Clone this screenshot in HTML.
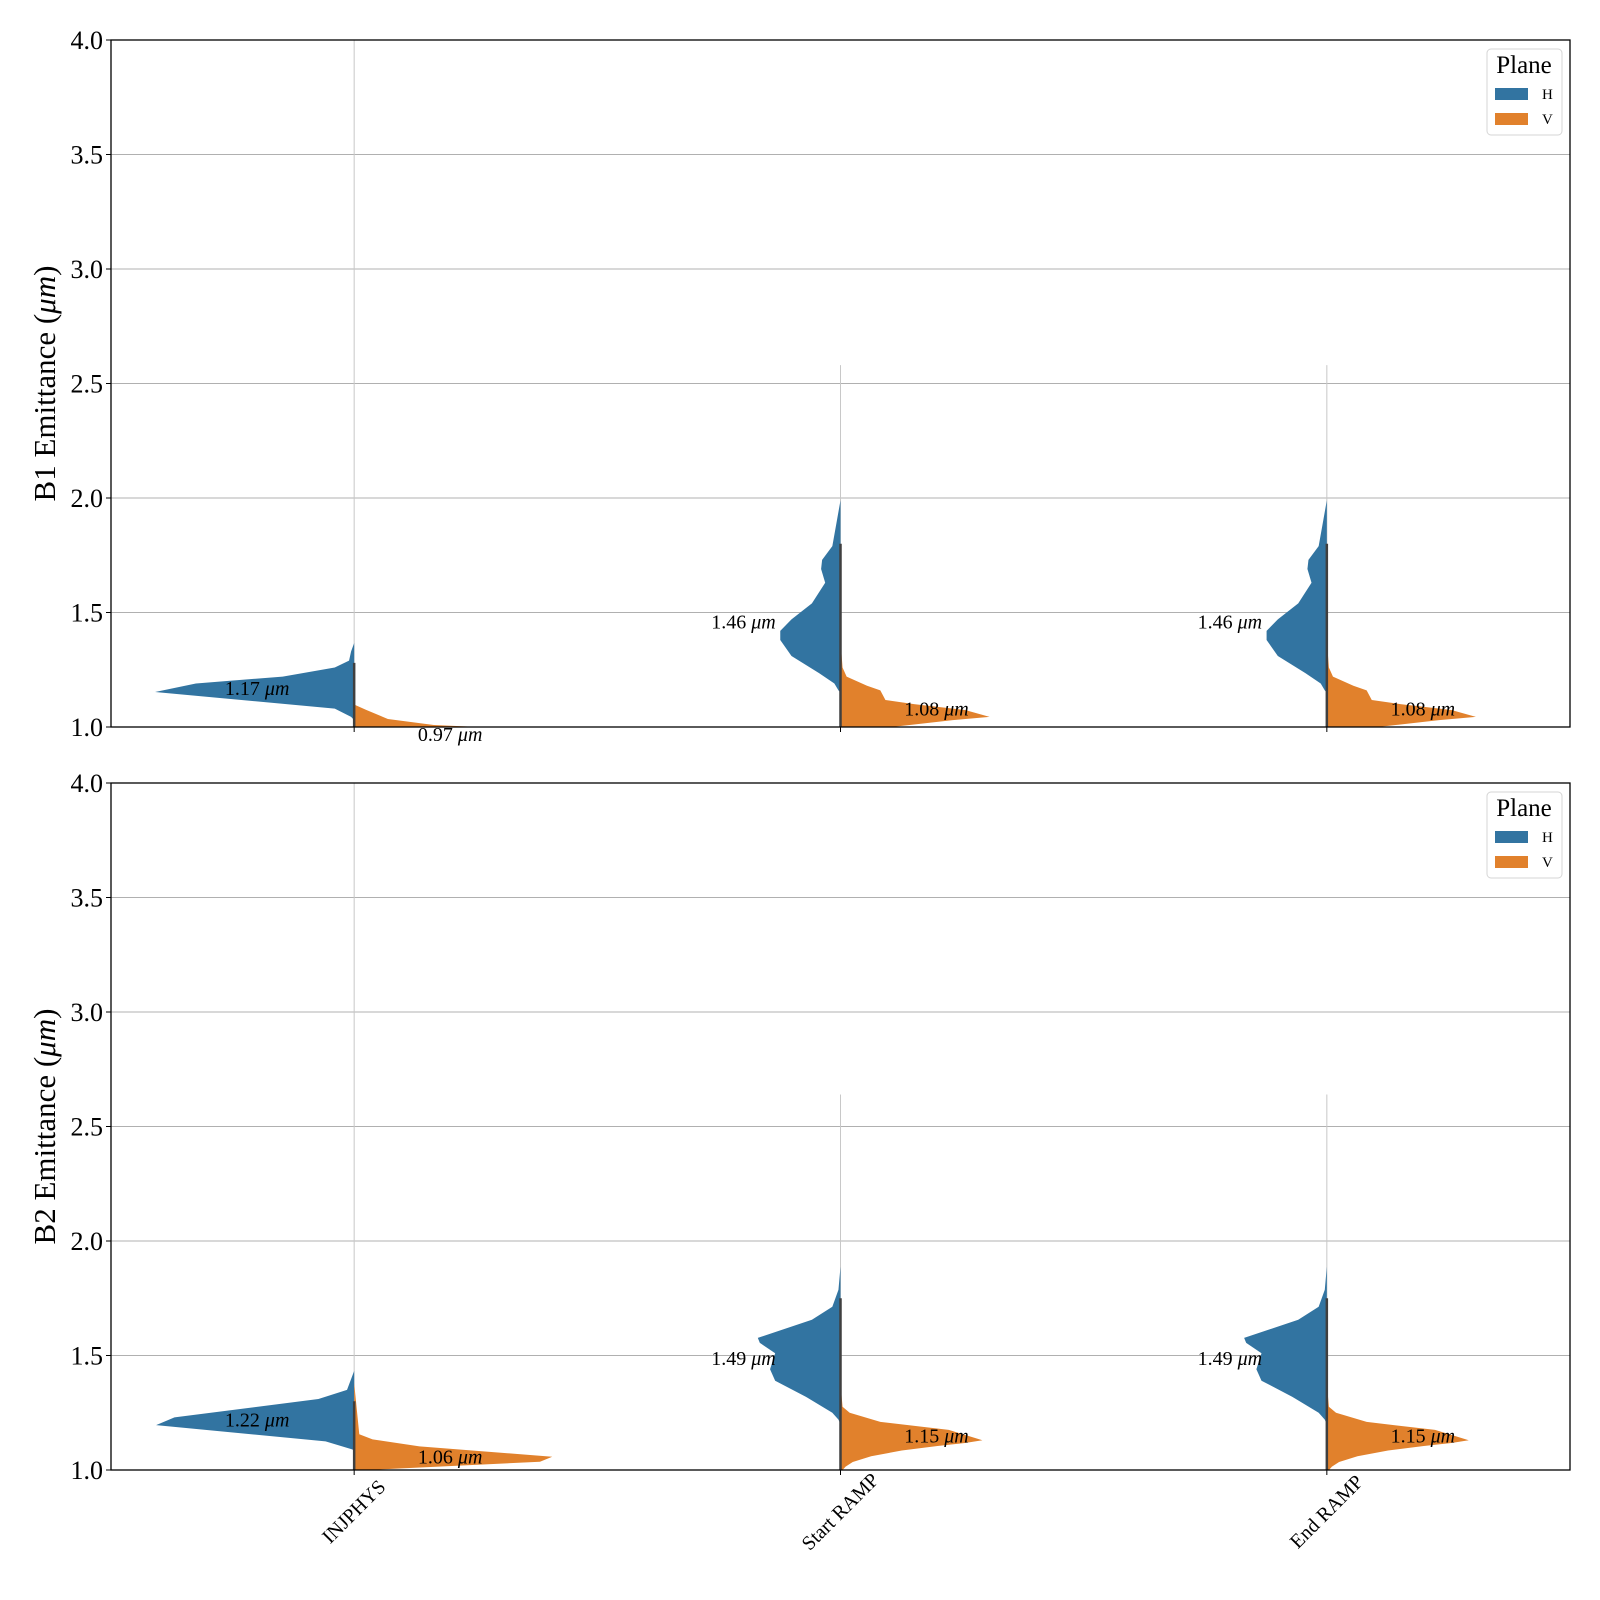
<!DOCTYPE html>
<html><head><meta charset="utf-8"><style>
html,body{margin:0;padding:0;background:#fff;}
svg{display:block;font-family:"Liberation Serif","DejaVu Serif",serif;}
</style></head><body>
<svg id="chart" width="1600" height="1600" viewBox="0 0 1600 1600" xmlns="http://www.w3.org/2000/svg"></svg>
<script>
const categories = ["INJPHYS", "Start RAMP", "End RAMP"];
const yTicks = [1.0, 1.5, 2.0, 2.5, 3.0, 3.5, 4.0];
const yTickLabels = ["1.0","1.5","2.0","2.5","3.0","3.5","4.0"];
const panelNames = ["B1", "B2"];
// density profiles: [value, half-width density]
const b1H_inj = [[1.367,0],[1.33,3],[1.29,5],[1.26,19],[1.22,70],[1.19,155],[1.153,195],[1.08,19],[1.044,3],[1.03,0]];
const b1V_inj = [[1.10,0],[1.096,1],[1.074,12],[1.035,33],[1.009,78],[1.0,122]];
const b1H_ramp = [[1.99,0],[1.89,4],[1.79,8],[1.73,18],[1.69,19],[1.63,15],[1.54,28],[1.47,48],[1.42,59],[1.38,59],[1.31,48],[1.235,21],[1.19,6],[1.16,2],[1.15,0]];
const b1V_ramp = [[1.38,0],[1.26,2],[1.22,6],[1.18,26],[1.16,39],[1.118,44],[1.10,72],[1.074,122],[1.044,146],[1.03,110],[1.01,70],[1.0,50]];
const b2H_inj = [[1.433,0],[1.35,7],[1.31,35],[1.23,176],[1.196,194],[1.125,28],[1.09,2],[1.085,0]];
const b2V_inj = [[1.38,0],[1.156,5],[1.134,18],[1.103,64],[1.058,194],[1.036,182],[1.013,75],[1.0,13]];
const b2H_ramp = [[1.888,0],[1.787,2],[1.713,8],[1.656,28],[1.577,81],[1.555,79],[1.51,64],[1.44,69],[1.39,64],[1.32,34],[1.25,8],[1.22,2],[1.2,0]];
const b2V_ramp = [[1.38,0],[1.276,2],[1.25,9],[1.21,39],[1.175,106],[1.13,139],[1.118,122],[1.105,95],[1.085,60],[1.06,30],[1.035,12],[1.015,5],[1.0,2]];
const medianH = [[1.17,1.46,1.46],[1.22,1.49,1.49]];
const medianV = [[0.97,1.08,1.08],[1.06,1.15,1.15]];
const dataMax = [[4.0,2.58,2.58],[4.0,2.64,2.64]];
const stickTop = [[1.28,1.8,1.8],[1.3,1.75,1.75]];
const profilesH = [[b1H_inj,b1H_ramp,b1H_ramp],[b2H_inj,b2H_ramp,b2H_ramp]];
const profilesV = [[b1V_inj,b1V_ramp,b1V_ramp],[b2V_inj,b2V_ramp,b2V_ramp]];

const NS="http://www.w3.org/2000/svg";
const svg=document.getElementById('chart');
const L=111,R=1570,panels=[{top:40,bot:727},{top:783,bot:1470}];
const yMin=1.0,yMax=4.0;
const colH="#3274a1",colV="#e1812c";
const bw=(R-L)/categories.length;
function xScale(i){return L+bw*(i+0.5);}
function mk(tag,attrs,parent){const e=document.createElementNS(NS,tag);for(const k in attrs)e.setAttribute(k,attrs[k]);(parent||svg).appendChild(e);return e;}

panels.forEach((p,pi)=>{
  const yS=v=>p.bot-(v-yMin)/(yMax-yMin)*(p.bot-p.top);
  const g=mk('g',{});
  
  
  const clipId='clip'+pi;
  const cp=mk('clipPath',{id:clipId},g);
  mk('rect',{x:L,y:p.top,width:R-L,height:p.bot-p.top},cp);
  yTicks.forEach((t,ti)=>{
    const gl=mk('line',{x1:L,x2:R,y1:yS(t),y2:yS(t),stroke:'#b0b0b0','stroke-width':1},g);
    
    
    const tk=mk('line',{x1:L-5,x2:L,y1:yS(t),y2:yS(t),stroke:'#000','stroke-width':1},g);
    
    
    const tl=mk('text',{x:L-8,y:yS(t)+9,'text-anchor':'end','font-size':26},g);
    tl.textContent=yTickLabels[ti];
    
    
  });
  categories.forEach((c,ci)=>{
    const cx=xScale(ci);
    const dl=mk('line',{x1:cx,x2:cx,y1:yS(dataMax[pi][ci]),y2:yS(1.0),stroke:'#c8c8c8','stroke-width':1,'clip-path':'url(#'+clipId+')'},g);
    
    
    [[profilesH[pi][ci],-1,colH,'h'],[profilesV[pi][ci],1,colV,'v']].forEach(([prof,dir,col,nm])=>{
      let d='M'+cx+','+yS(prof[0][0]);
      prof.forEach(([v,w])=>{d+=' L'+(cx+dir*w*1.021)+','+yS(v);});
      d+=' L'+cx+','+yS(prof[prof.length-1][0])+' Z';
      const pa=mk('path',{d:d,fill:col,'clip-path':'url(#'+clipId+')'},g);
      
      
    });
    const st=mk('line',{x1:cx,x2:cx,y1:yS(stickTop[pi][ci]),y2:yS(1.0),stroke:'#3f3f3f','stroke-width':2.5},g);
    
    
    const th=mk('text',{x:cx-97,y:yS(medianH[pi][ci])+7,'text-anchor':'middle','font-size':20},g);
    th.innerHTML=medianH[pi][ci].toFixed(2)+' <tspan font-style="italic">μm</tspan>';
    
    
    const tv=mk('text',{x:cx+96,y:yS(medianV[pi][ci])+7,'text-anchor':'middle','font-size':20},g);
    tv.innerHTML=medianV[pi][ci].toFixed(2)+' <tspan font-style="italic">μm</tspan>';
    
    
    const xt=mk('line',{x1:cx,x2:cx,y1:p.bot,y2:p.bot+5,stroke:'#000','stroke-width':1},g);
    
    
    if(pi===1){
      const xl=mk('text',{x:cx,y:1518,'text-anchor':'middle','font-size':20,transform:'rotate(-45 '+cx+' 1512)'},g);
      xl.textContent=c;
      
      
    }
  });
  const fr=mk('rect',{x:L,y:p.top,width:R-L,height:p.bot-p.top,fill:'none',stroke:'#000','stroke-width':1.3},g);
  
  
  const cy=(p.top+p.bot)/2;
  const yl=mk('text',{x:55,y:cy,'text-anchor':'middle','font-size':31,transform:'rotate(-90 55 '+cy+')'},g);
  yl.innerHTML=panelNames[pi]+' Emittance (<tspan font-style="italic">μm</tspan>)';
  
  
  const lg=mk('g',{},g);
  
  
  const o=p.top;
  mk('rect',{x:1487,y:o+9,width:75,height:86,rx:4,fill:'#fff','fill-opacity':0.8,stroke:'#d5d5d5','stroke-width':1},lg);
  const lt=mk('text',{x:1524,y:o+33,'text-anchor':'middle','font-size':25},lg);
  lt.textContent='Plane';
  
  
  [['H',colH,o+48],['V',colV,o+73]].forEach(([n,c,yy])=>{
    const r=mk('rect',{x:1495,y:yy,width:33,height:12,fill:c},lg);
    
    
    const t=mk('text',{x:1542,y:yy+11,'font-size':15},lg);
    t.textContent=n;
    
    
  });
});
</script>
</body></html>
